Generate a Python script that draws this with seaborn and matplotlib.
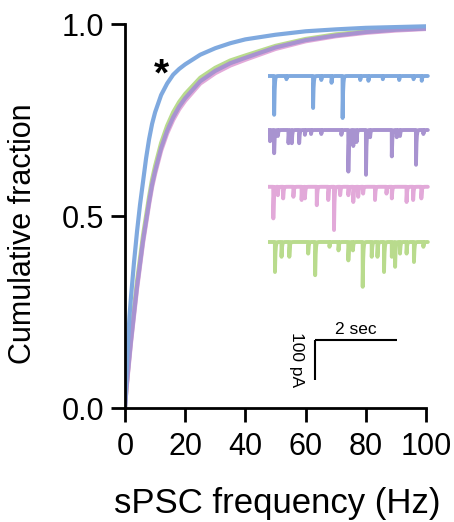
import numpy as np
import pandas as pd
import matplotlib
matplotlib.use("Agg")
import matplotlib.pyplot as plt
import seaborn as sns

# cumulative distributions
freq = [0, 0.5, 1, 1.5, 2, 3, 4, 5, 6, 7, 8, 9, 10, 12, 14, 16, 18, 20, 25, 30, 35, 40,
        50, 60, 70, 80, 90, 100]
cum_blue = [0, 0.09, 0.17, 0.24, 0.29, 0.38, 0.46, 0.53, 0.59, 0.65, 0.70, 0.74, 0.77, 0.815,
            0.845, 0.868, 0.883, 0.895, 0.92, 0.937, 0.95, 0.96, 0.972, 0.981, 0.986, 0.990,
            0.992, 0.994]
cum_green = [0, 0.055, 0.10, 0.145, 0.185, 0.26, 0.33, 0.39, 0.45, 0.50, 0.55, 0.595, 0.63,
             0.69, 0.735, 0.77, 0.797, 0.818, 0.86, 0.886, 0.905, 0.918, 0.943, 0.961, 0.973,
             0.981, 0.986, 0.990]
cum_purple = [0, 0.053, 0.095, 0.136, 0.176, 0.247, 0.317, 0.377, 0.437, 0.487, 0.537, 0.582,
              0.617, 0.677, 0.722, 0.757, 0.785, 0.807, 0.851, 0.878, 0.898, 0.912, 0.939,
              0.958, 0.970, 0.979, 0.985, 0.988]
cum_pink = [0, 0.05, 0.09, 0.13, 0.17, 0.24, 0.31, 0.37, 0.43, 0.48, 0.53, 0.575, 0.61, 0.67,
            0.715, 0.75, 0.778, 0.80, 0.845, 0.872, 0.892, 0.907, 0.935, 0.955, 0.968, 0.977,
            0.983, 0.987]

# example traces: event times (s) and amplitudes (pA)
ev_blue_t = [0.15, 0.45, 1.10, 1.30, 1.55, 1.82, 2.25, 2.45, 2.80, 3.20, 3.55, 3.75]
ev_blue_a = [97, 8, 80, 10, 17, 105, 10, 12, 8, 10, 8, 12]
ev_purple_t = [0.05, 0.15, 0.24, 0.50, 0.58, 0.76, 0.90, 1.05, 1.30, 1.79, 1.96, 2.08, 2.16, 2.39,
               2.49, 3.02, 3.14, 3.22, 3.61, 3.79]
ev_purple_a = [28, 58, 15, 33, 33, 33, 12, 10, 10, 12, 104, 40, 30, 112, 18, 66, 18, 15, 87, 10]
ev_pink_t = [0.13, 0.24, 0.37, 0.62, 0.82, 0.90, 1.19, 1.47, 1.61, 1.76, 1.96, 2.08, 2.20, 2.32,
             2.61, 2.89, 3.02, 3.38, 3.54, 3.74]
ev_pink_a = [79, 21, 29, 25, 33, 29, 46, 33, 108, 21, 21, 38, 25, 17, 33, 17, 29, 38, 33, 29]
ev_green_t = [0.17, 0.33, 0.52, 0.98, 1.15, 1.50, 1.72, 1.96, 2.07, 2.31, 2.53, 2.67, 2.83, 3.02,
              3.10, 3.22, 3.38, 3.56, 3.79]
ev_green_a = [75, 37, 37, 29, 83, 12, 21, 46, 21, 112, 37, 37, 75, 37, 62, 29, 29, 50, 12]

groups = ["blue", "green", "purple", "pink"]
palette = {"blue": "#7fa9df", "green": "#b9db8d", "purple": "#a893d0", "pink": "#e2a9d9"}

df = pd.DataFrame({
    "freq": freq * 4,
    "cum": cum_pink + cum_purple + cum_green + cum_blue,
    "group": ["pink"] * len(freq) + ["purple"] * len(freq) + ["green"] * len(freq) + ["blue"] * len(freq),
})

sns.set_theme(style="ticks")
plt.rcParams["font.family"] = ["Liberation Sans", "DejaVu Sans"]
plt.rcParams["text.color"] = "black"
plt.rcParams["axes.labelcolor"] = "black"

fig = plt.figure(figsize=(4.54, 5.22), dpi=100)
ax = fig.add_axes([125 / 454, 1 - 408 / 522, 301 / 454, 384 / 522])

for g in ["green", "pink", "purple", "blue"]:
    sns.lineplot(data=df[df["group"] == g], x="freq", y="cum", color=palette[g],
                 linewidth=3, ax=ax, legend=False)

ax.set_xlim(0, 100)
ax.set_ylim(0, 1)
ax.set_xticks([0, 20, 40, 60, 80, 100])
ax.set_yticks([0, 0.5, 1.0])
ax.set_yticklabels(["0.0", "0.5", "1.0"])
ax.tick_params(labelsize=22, length=10, width=2, color="black", labelcolor="black", pad=5)
ax.tick_params(axis="x", pad=7)
for s in ["top", "right"]:
    ax.spines[s].set_visible(False)
for s in ["left", "bottom"]:
    ax.spines[s].set_linewidth(2)
    ax.spines[s].set_color("black")
ax.set_xlabel("sPSC frequency (Hz)", fontsize=25)
ax.set_ylabel("Cumulative fraction", fontsize=22)
ax.xaxis.set_label_coords(0.505, -0.205)
ax.yaxis.set_label_coords(-0.29, 0.455)
ax.text(12, 0.865, "*", fontsize=28, fontweight="bold", ha="center", va="center")

# inset with example traces
ins = fig.add_axes([268 / 454, 1 - 390 / 522, 164 / 454, 330 / 522])
ins.set_xlim(0, 4)
ins.set_ylim(-825, 0)
ins.axis("off")

t = np.arange(0, 3.9, 0.002)
offsets = {"blue": -40, "purple": -175, "pink": -317, "green": -455}
events = {"blue": (ev_blue_t, ev_blue_a), "purple": (ev_purple_t, ev_purple_a),
          "pink": (ev_pink_t, ev_pink_a), "green": (ev_green_t, ev_green_a)}
for g in groups:
    y = np.zeros_like(t)
    for t0, a in zip(*events[g]):
        m = t >= t0
        y[m] -= a * np.exp(-(t[m] - t0) / 0.012)
    sns.lineplot(x=t, y=y + offsets[g], color=palette[g], linewidth=2.8, ax=ins)

# scale bar
x0, yb = 1.15, -700
ins.plot([x0, x0 + 2], [yb, yb], color="black", lw=1.5, solid_capstyle="butt")
ins.plot([x0, x0], [yb, yb - 100], color="black", lw=1.5, solid_capstyle="butt")
ins.text(x0 + 1, yb + 8, "2 sec", fontsize=12.5, ha="center", va="bottom")
ins.text(x0 - 0.45, yb - 50, "100 pA", fontsize=12.5, ha="center", va="center", rotation=-90)

fig.savefig("out.png", dpi=100)
